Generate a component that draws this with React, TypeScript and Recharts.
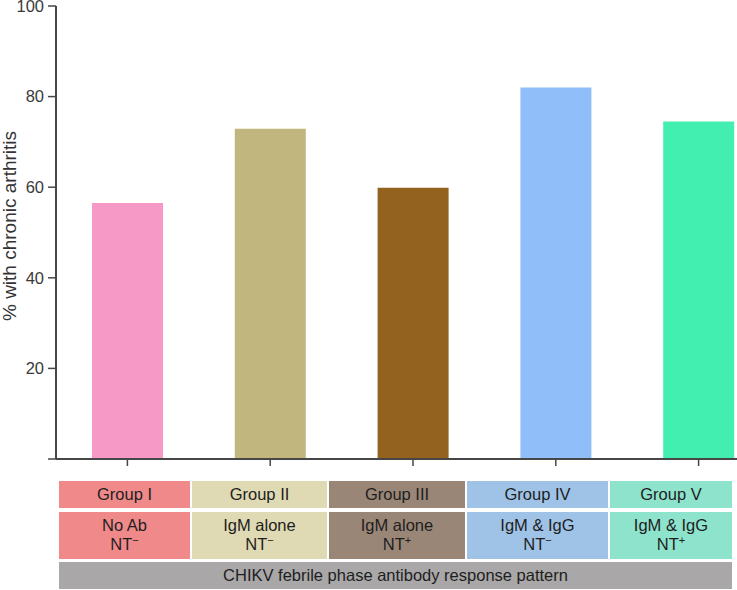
import { BarChart, Bar, XAxis, YAxis, Cell } from 'recharts'

const groups = ['Group I', 'Group II', 'Group III', 'Group IV', 'Group V']
const arthritisPct = [56.5, 72.9, 59.9, 82.0, 74.5]
const barColors = ['#f799c6', '#c1b67d', '#93621f', '#90bef8', '#42efb0']
const yTicks = [0, 20, 40, 60, 80, 100]

const antibodyLabels = ['No Ab', 'IgM alone', 'IgM alone', 'IgM & IgG', 'IgM & IgG']
const ntSigns = ['−', '−', '+', '−', '+']
const cellColors = ['#f08a8a', '#e0dab4', '#9a8677', '#9fc3e7', '#8ee3cc']
const footerLabel = 'CHIKV febrile phase antibody response pattern'

// table layout (cells are not aligned to the bar bands)
const cellWidths = [131, 135, 136, 141, 122]
const GAP = 2

const data = groups.map((g, i) => ({ group: g, value: arthritisPct[i] }))

const FONT = '"Liberation Sans", Arial, Helvetica, sans-serif'
const AXIS = '#474747'

function YLabel() {
  return (
    <text
      transform="translate(16,226) rotate(-90)"
      textAnchor="middle"
      fontSize={19}
      fontFamily={FONT}
      fill="#333"
    >
      % with chronic arthritis
    </text>
  )
}

function TableRow({ top, height, children }: { top: number; height: number; children: (i: number) => any }) {
  return (
    <div style={{ position: 'absolute', left: 59, top, height, display: 'flex', gap: GAP }}>
      {cellWidths.map((w, i) => (
        <div
          key={i}
          style={{
            width: w,
            height,
            background: cellColors[i],
            display: 'flex',
            flexDirection: 'column',
            alignItems: 'center',
            justifyContent: 'center',
            textAlign: 'center',
          }}
        >
          {children(i)}
        </div>
      ))}
    </div>
  )
}

export default function App() {
  return (
    <div
      style={{
        position: 'absolute',
        left: 0,
        top: 0,
        width: 737,
        height: 590,
        overflow: 'hidden',
        background: '#fff',
        fontFamily: FONT,
        color: '#1e1e1e',
      }}
    >
      <BarChart
        width={770}
        height={489}
        data={data}
        margin={{ top: 6, right: 0, bottom: 0, left: 0 }}
        barSize={71}
      >
        <XAxis
          dataKey="group"
          height={30}
          axisLine={{ stroke: AXIS, strokeWidth: 2 }}
          tickLine={{ stroke: AXIS, strokeWidth: 1.5 }}
          tickSize={7}
          tickFormatter={() => ''}
        />
        <YAxis
          width={56}
          domain={[0, 100]}
          ticks={yTicks}
          interval={0}
          axisLine={{ stroke: AXIS, strokeWidth: 2 }}
          tickLine={{ stroke: AXIS, strokeWidth: 1.5 }}
          tickSize={8}
          tickMargin={4}
          tickFormatter={(v: number) => (v === 0 ? '' : String(v))}
          tick={{ fontSize: 16.5, fill: '#3a3a3a', fontFamily: FONT }}
          label={{ content: () => <YLabel /> }}
        />
        <Bar dataKey="value" isAnimationActive={false}>
          {data.map((d, i) => (
            <Cell key={d.group} fill={barColors[i]} />
          ))}
        </Bar>
      </BarChart>

      <TableRow top={481} height={27}>
        {(i) => <div style={{ fontSize: 16.5 }}>{groups[i]}</div>}
      </TableRow>
      <TableRow top={512} height={47}>
        {(i) => (
          <div style={{ fontSize: 16.5, lineHeight: '19px' }}>
            <div>{antibodyLabels[i]}</div>
            <div>
              NT
              <span style={{ fontSize: 11, position: 'relative', top: -6 }}>{ntSigns[i]}</span>
            </div>
          </div>
        )}
      </TableRow>
      <div
        style={{
          position: 'absolute',
          left: 59,
          top: 562,
          width: 673,
          height: 27,
          background: '#a9a7a7',
          display: 'flex',
          alignItems: 'center',
          justifyContent: 'center',
          fontSize: 16.5,
        }}
      >
        {footerLabel}
      </div>
    </div>
  )
}
